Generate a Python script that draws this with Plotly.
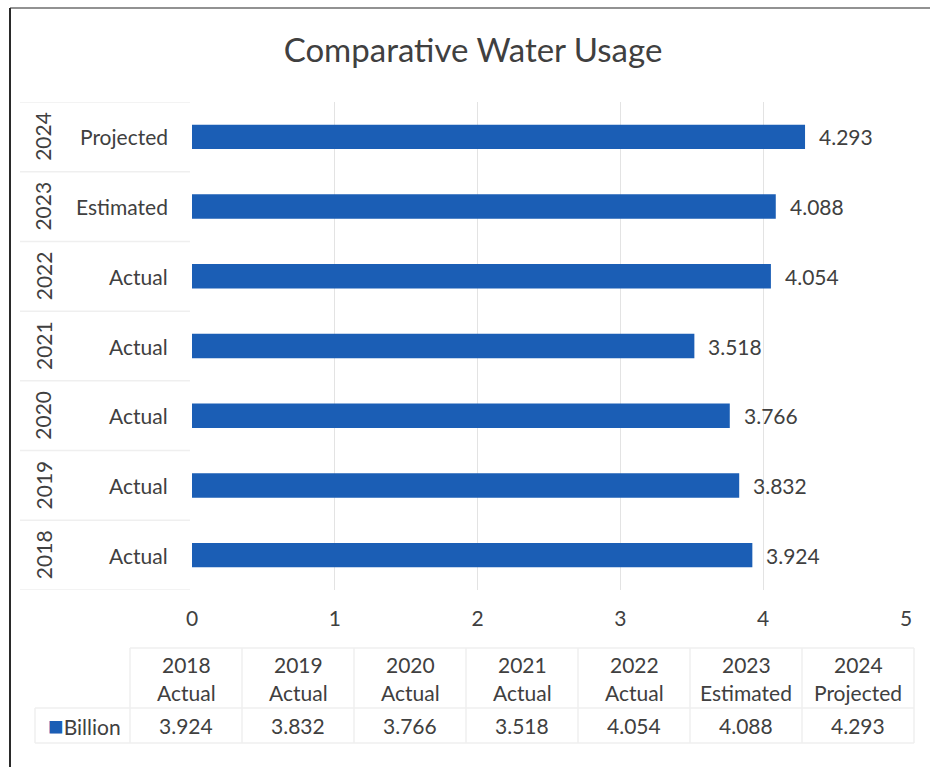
import plotly.graph_objects as go

# Annual water usage, in billions
years = ["2018", "2019", "2020", "2021", "2022", "2023", "2024"]
status = ["Actual", "Actual", "Actual", "Actual", "Actual", "Estimated", "Projected"]
usage = [3.924, 3.832, 3.766, 3.518, 4.054, 4.088, 4.293]
series_name = "Billion"
x_ticks = [0, 1, 2, 3, 4, 5]

W, H = 930, 767
BAR = "#1B5EB5"
TXT = "#404040"
GRID = "#e3e3e3"
FAINT = "#efefef"
FONT = "Lato"
FS = 21

# plot area in pixels
PL, PR, PT, PB = 192, 906, 102, 590


def px(x):
    return x / W


def py(y):
    return 1 - y / H


fig = go.Figure(
    go.Bar(
        x=usage,
        y=years,
        orientation="h",
        marker=dict(color=BAR, line=dict(width=0)),
        width=0.35,
        showlegend=False,
        hovertemplate="%{y}: %{x}<extra></extra>",
    )
)

annotations = []
shapes = []

# value labels at bar ends (category axis positions are serial indices)
for i, v in enumerate(usage):
    annotations.append(dict(x=v, y=i, xref="x", yref="y", text=f"{v:.3f}",
                            showarrow=False, xanchor="left", yanchor="middle",
                            xshift=12,
                            font=dict(size=FS, color=TXT, family=FONT)))

# two-level category labels on the left
for i, (yr, st) in enumerate(zip(years, status)):
    annotations.append(dict(x=px(170), y=i, xref="paper", yref="y", text=st,
                            showarrow=False, xanchor="right", yanchor="middle",
                            font=dict(size=FS, color=TXT, family=FONT)))
    annotations.append(dict(x=px(43), y=i, xref="paper", yref="y", text=yr,
                            showarrow=False, textangle=-90,
                            xanchor="center", yanchor="middle",
                            font=dict(size=FS, color=TXT, family=FONT)))

# category dividers in the label column
for i in range(len(years) + 1):
    shapes.append(dict(type="line", xref="paper", yref="y",
                       x0=px(20), x1=px(190), y0=i - 0.5, y1=i - 0.5,
                       line=dict(color=FAINT, width=1.5)))

# data table below the axis
col_left, col_w = 130, 112
row_year, row_status, row_val = 664, 692, 725
t_top, t_mid, t_bot = 648, 708, 743
for i, (yr, st, v) in enumerate(zip(years, status, usage)):
    cx = col_left + col_w * (i + 0.5)
    for txt, ry in ((yr, row_year), (st, row_status), (f"{v:.3f}", row_val)):
        annotations.append(dict(x=px(cx), y=py(ry), xref="paper", yref="paper",
                                text=txt, showarrow=False,
                                xanchor="center", yanchor="middle",
                                font=dict(size=FS, color=TXT, family=FONT)))

annotations.append(dict(x=px(46), y=py(row_val), xref="paper", yref="paper",
                        text=(f'<span style="color:{BAR};font-size:26px">■</span>'
                              f'{series_name}'),
                        showarrow=False, xanchor="left", yanchor="middle",
                        font=dict(size=FS, color=TXT, family=FONT)))

t_right = col_left + col_w * len(years)
for yy in (t_top, t_mid, t_bot):
    shapes.append(dict(type="line", xref="paper", yref="paper",
                       x0=px(col_left), x1=px(t_right), y0=py(yy), y1=py(yy),
                       line=dict(color=FAINT, width=1.5)))
for yy in (t_mid, t_bot):
    shapes.append(dict(type="line", xref="paper", yref="paper",
                       x0=px(35), x1=px(col_left), y0=py(yy), y1=py(yy),
                       line=dict(color=FAINT, width=1.5)))
for i in range(len(years) + 1):
    xx = col_left + col_w * i
    shapes.append(dict(type="line", xref="paper", yref="paper",
                       x0=px(xx), x1=px(xx), y0=py(t_top), y1=py(t_bot),
                       line=dict(color=FAINT, width=1.5)))
shapes.append(dict(type="line", xref="paper", yref="paper",
                   x0=px(35), x1=px(35), y0=py(t_mid), y1=py(t_bot),
                   line=dict(color=FAINT, width=1.5)))

# chart frame
shapes.append(dict(type="line", xref="paper", yref="paper",
                   x0=px(10), x1=1, y0=py(8), y1=py(8),
                   line=dict(color="#6e6e6e", width=1.5)))
shapes.append(dict(type="line", xref="paper", yref="paper",
                   x0=px(10), x1=px(10), y0=py(8), y1=0,
                   line=dict(color="#2a2a2a", width=2)))

fig.update_layout(
    width=W,
    height=H,
    margin=dict(l=0, r=0, t=0, b=0, autoexpand=False),
    paper_bgcolor="white",
    plot_bgcolor="white",
    title=dict(text="Comparative Water Usage", x=px(473), xanchor="center",
               y=py(50), yanchor="middle",
               font=dict(size=33, color=TXT, family=FONT)),
    xaxis=dict(domain=[px(PL), px(PR)], range=[0, 5], tickvals=x_ticks,
               showgrid=True, gridcolor=GRID, gridwidth=1, zeroline=False,
               showline=False, ticks="", ticklabelstandoff=14,
               tickfont=dict(size=FS, color=TXT, family=FONT)),
    yaxis=dict(domain=[py(PB), py(PT)], type="category",
               categoryorder="array", categoryarray=years,
               range=[-0.5, len(years) - 0.5],
               showticklabels=False, showgrid=False, zeroline=False,
               showline=False, ticks=""),
    annotations=annotations,
    shapes=shapes,
    bargap=0.65,
)

fig.write_html("out.html")
